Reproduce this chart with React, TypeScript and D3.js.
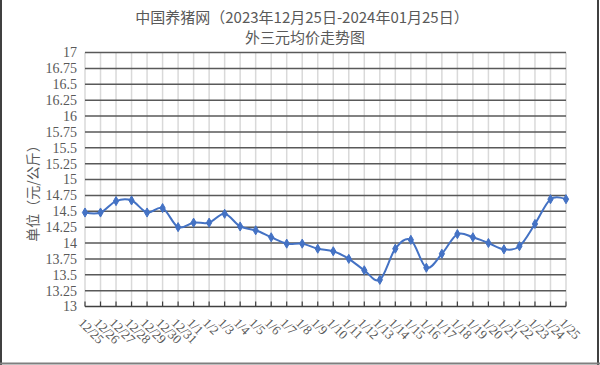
import React from "react";
import * as d3 from "d3";

const categories: string[] = [
  "12/25", "12/26", "12/27", "12/28", "12/29", "12/30", "12/31",
  "1/1", "1/2", "1/3", "1/4", "1/5", "1/6", "1/7", "1/8", "1/9", "1/10",
  "1/11", "1/12", "1/13", "1/14", "1/15", "1/16", "1/17", "1/18", "1/19",
  "1/20", "1/21", "1/22", "1/23", "1/24", "1/25",
];

const prices: number[] = [
  14.48, 14.48, 14.66, 14.67, 14.48, 14.55, 14.25,
  14.32, 14.32, 14.46, 14.26, 14.2, 14.09, 13.99, 13.99, 13.91, 13.87,
  13.75, 13.57, 13.42, 13.91, 14.05, 13.61, 13.83, 14.14, 14.09,
  14.0, 13.9, 13.95, 14.3, 14.69, 14.69,
];

const yTicks: number[] = [13, 13.25, 13.5, 13.75, 14, 14.25, 14.5, 14.75, 15, 15.25, 15.5, 15.75, 16, 16.25, 16.5, 16.75, 17];

const titleLine1 = "中国养猪网（2023年12月25日-2024年01月25日）";
const titleLine2 = "外三元均价走势图";
const yTitle = "单位（元/公斤）";

const LineColor = "#4472C4";
const TextColor = "#595959";
const serif = "Liberation Serif";

export default function App(): React.ReactElement {
  const W = 600;
  const H = 365;
  const plot = {left: 85, right: 566, top: 52.5, bottom: 306.5};

  const x = d3.scalePoint<string>().domain(categories).range([plot.left, plot.right]);
  const y = d3.scaleLinear().domain([13, 17]).range([plot.bottom, plot.top]);

  const line = d3.line<number>()
    .x((_, i) => x(categories[i]) as number)
    .y((d) => y(d))
    .curve(d3.curveCardinal.tension(0));

  const diamond = d3.symbol().type(d3.symbolDiamond).size(24)();

  return (
    <div style={{position: "absolute", left: 0, top: 0}}>
      <svg width={W} height={H} style={{display: "block", background: "#fff"}}>
        {/* frame */}
        <line x1={1} y1={0} x2={1} y2={H} stroke="#404040" strokeWidth={2} />
        <line x1={W - 2} y1={0} x2={W - 2} y2={H} stroke="#404040" strokeWidth={2} />
        <line x1={0} y1={H - 1.5} x2={W} y2={H - 1.5} stroke="#7f7f7f" strokeWidth={2} />

        {/* titles */}
        <text x={302} y={23} textAnchor="middle" fontSize={15} fill={TextColor} style={{fontFamily: "'Noto Sans CJK SC', sans-serif"}}>{titleLine1}</text>
        <text x={305} y={43} textAnchor="middle" fontSize={15} fill={TextColor} style={{fontFamily: "'Noto Sans CJK SC', sans-serif"}}>{titleLine2}</text>

        {/* vertical grid */}
        {categories.map((c) => (
          <line key={"v" + c} x1={x(c)} x2={x(c)} y1={plot.top} y2={plot.bottom} stroke="#d9d9d9" strokeWidth={1.5} />
        ))}

        {/* horizontal grid */}
        {yTicks.filter((t) => t !== 13).map((t) => (
          <line key={"h" + t} x1={plot.left} x2={plot.right} y1={y(t)} y2={y(t)} stroke="#595959" strokeWidth={1.5} />
        ))}

        {/* bottom axis */}
        <line x1={plot.left} x2={plot.right} y1={plot.bottom} y2={plot.bottom} stroke="#404040" strokeWidth={1.5} />
        {categories.map((c) => (
          <line key={"t" + c} x1={x(c)} x2={x(c)} y1={plot.bottom} y2={plot.bottom - 5} stroke="#404040" strokeWidth={1.2} />
        ))}

        {/* y tick labels */}
        {yTicks.map((t) => (
          <text key={"yl" + t} x={77} y={y(t)} dy="0.35em" textAnchor="end" fontSize={14} fill={TextColor} style={{fontFamily: serif}}>{String(t)}</text>
        ))}

        {/* x tick labels */}
        {categories.map((c) => (
          <text key={"xl" + c} transform={`translate(${(x(c) as number) - 4},${plot.bottom + 14}) rotate(45)`} textAnchor="start" dy="0.35em" fontSize={13} fill={TextColor} style={{fontFamily: serif}}>{c}</text>
        ))}

        {/* y title */}
        <text transform="translate(33,190) rotate(-90)" textAnchor="middle" dy="0.35em" fontSize={14} fill={TextColor} style={{fontFamily: "'Noto Sans CJK SC', sans-serif"}}>{yTitle}</text>

        {/* series */}
        <path d={line(prices) ?? ""} fill="none" stroke={LineColor} strokeWidth={2} />
        {prices.map((v, i) => (
          <path key={"m" + i} d={diamond ?? ""} transform={`translate(${x(categories[i])},${y(v)})`} fill={LineColor} stroke={LineColor} strokeWidth={1} />
        ))}
      </svg>
    </div>
  );
}
